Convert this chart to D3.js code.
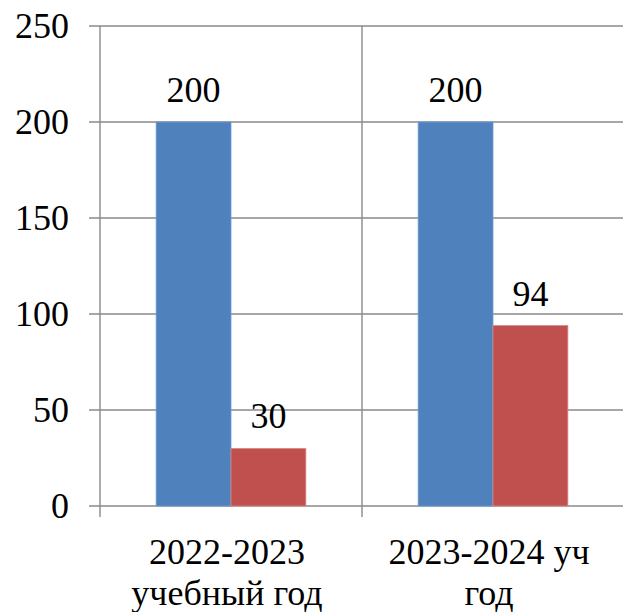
<!DOCTYPE html>
<html>
<head>
<meta charset="utf-8">
<script src="https://cdn.jsdelivr.net/npm/d3@7"></script>
<style>
  body { margin: 0; background: #fff; }
  svg text { font-family: "Liberation Serif", "Times New Roman", Times, "DejaVu Serif", serif; }
</style>
</head>
<body>
<div id="chart"></div>
<script>
var categories = [["2022-2023", "учебный год"], ["2023-2024 уч", "год"]];
var series = ["s1", "s2"];
var values1 = [200, 200];
var values2 = [30, 94];
var yTicks = [0, 50, 100, 150, 200, 250];
var colors = ["#4F81BD", "#C0504D"];

var width = 623, height = 612;
var mLeft = 100, mRight = 624, mTop = 26, mBottom = 506;

var svg = d3.select("#chart").append("svg")
  .attr("width", width)
  .attr("height", height);

var x = d3.scaleBand()
  .domain(d3.range(categories.length))
  .range([mLeft, mRight])
  .paddingInner(0)
  .paddingOuter(0);

var xSub = d3.scaleBand()
  .domain(series)
  .range([0, x.bandwidth()])
  .paddingInner(0)
  .paddingOuter(0.75);

var y = d3.scaleLinear()
  .domain([0, 250])
  .range([mBottom, mTop]);

var gridColor = "#8a8a8a";

// horizontal gridlines, with tick marks running out to the left
svg.append("g")
  .selectAll("line")
  .data(yTicks)
  .enter()
  .append("line")
  .attr("x1", mLeft - 11)
  .attr("x2", mRight)
  .attr("y1", function(d){ return y(d); })
  .attr("y2", function(d){ return y(d); })
  .attr("stroke", gridColor)
  .attr("stroke-width", 1.4);

// vertical lines on category boundaries
var bounds = d3.range(categories.length + 1).map(function(i){
  return i < categories.length ? x(i) : x(i - 1) + x.bandwidth();
});
svg.append("g")
  .selectAll("line")
  .data(bounds)
  .enter()
  .append("line")
  .attr("x1", function(d){ return d; })
  .attr("x2", function(d){ return d; })
  .attr("y1", mTop)
  .attr("y2", mBottom + 11)
  .attr("stroke", gridColor)
  .attr("stroke-width", 1.4);

// y tick labels
svg.append("g")
  .selectAll("text")
  .data(yTicks)
  .enter()
  .append("text")
  .attr("x", 69)
  .attr("y", function(d){ return y(d); })
  .attr("dy", "0.33em")
  .attr("text-anchor", "end")
  .attr("font-size", "36px")
  .attr("fill", "#000")
  .text(function(d){ return d; });

var rows = categories.map(function(c, i){
  return { i: i, vals: [values1[i], values2[i]] };
});

var groups = svg.selectAll("g.cat")
  .data(rows)
  .enter()
  .append("g")
  .attr("class", "cat")
  .attr("transform", function(d){ return "translate(" + x(d.i) + ",0)"; });

groups.selectAll("rect")
  .data(function(d){ return d.vals.map(function(v, k){ return { s: series[k], v: v, k: k }; }); })
  .enter()
  .append("rect")
  .attr("x", function(d){ return xSub(d.s); })
  .attr("y", function(d){ return y(d.v); })
  .attr("width", xSub.bandwidth())
  .attr("height", function(d){ return y(0) - y(d.v); })
  .attr("fill", function(d){ return colors[d.k]; })
  .attr("stroke", function(d){ return d.k == 0 ? "#6f9bd0" : "#d98a88"; })
  .attr("stroke-width", 0.8);

groups.selectAll("text.val")
  .data(function(d){ return d.vals.map(function(v, k){ return { s: series[k], v: v, k: k }; }); })
  .enter()
  .append("text")
  .attr("class", "val")
  .attr("x", function(d){ return xSub(d.s) + xSub.bandwidth() / 2; })
  .attr("y", function(d){ return y(d.v) - 20; })
  .attr("text-anchor", "middle")
  .attr("font-size", "36px")
  .attr("fill", "#000")
  .text(function(d){ return d.v; });

// category labels (two lines)
groups.append("text")
  .attr("text-anchor", "middle")
  .attr("font-size", "36px")
  .attr("fill", "#000")
  .selectAll("tspan")
  .data(function(d){ return categories[d.i]; })
  .enter()
  .append("tspan")
  .attr("x", x.bandwidth() / 2 - 4)
  .attr("y", function(d, j){ return 564 + j * 41; })
  .text(function(d){ return d; });
</script>
</body>
</html>
